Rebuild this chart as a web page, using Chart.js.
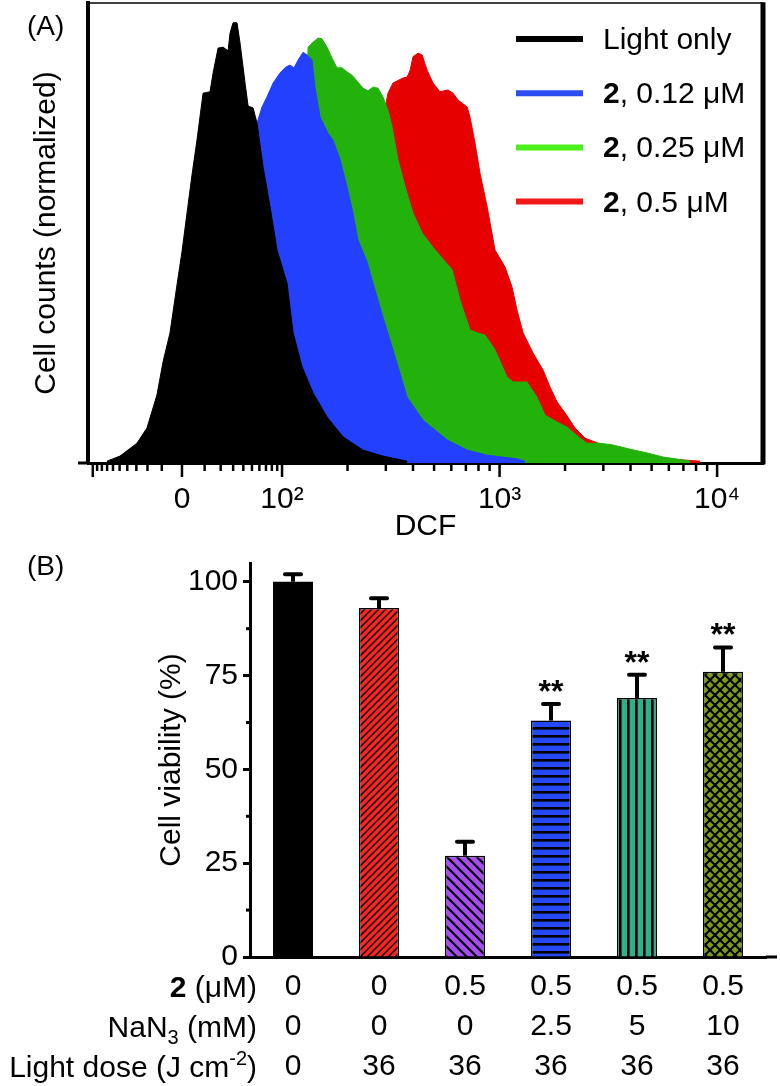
<!DOCTYPE html>
<html>
<head>
<meta charset="utf-8">
<script src="https://cdn.jsdelivr.net/npm/chart.js@4.4.1/dist/chart.umd.min.js"></script>
<style>
  html, body { margin: 0; padding: 0; background: #fff; }
  #wrap { position: relative; width: 780px; height: 1086px; }
  #chartA { position: absolute; left: 0; top: 0; }
  #chartB { position: absolute; left: 0; top: 540px; }
</style>
</head>
<body>
<div id="wrap">
  <canvas id="chartA" width="780" height="545"></canvas>
  <canvas id="chartB" width="780" height="546"></canvas>
</div>
<script>
// ── (A) DCF histograms ──
// x = display channel on the logicle DCF axis (10^2 -> 2, 10^3 -> 3 ...), y = cell counts (normalized, %)
const lightOnlyX = [1.195,1.255,1.333,1.379,1.425,1.453,1.485,1.517,1.540,1.563,1.586,1.609,1.637,1.669,1.683,1.706,1.729,1.752,1.761,1.775,1.793,1.807,1.830,1.844,1.867,1.885,1.913,1.945,1.977,2.023,2.051,2.092,2.143,2.207,2.280,2.372,2.464,2.575];
const lightOnlyY = [0.4,1.5,4.3,7.6,14.8,22.0,28.3,38.7,45.9,54.3,62.6,70.2,80.4,80.7,84.8,90.2,90.4,89.6,93.5,95.7,95.7,91.3,82.6,77.6,77.2,73.9,64.3,55.7,46.3,39.1,28.3,20.9,15.2,10.0,5.7,2.8,1.5,0.4];

const dose012X = [1.209,1.393,1.531,1.623,1.715,1.807,1.853,1.885,1.908,1.931,1.959,1.991,2.018,2.037,2.055,2.074,2.097,2.115,2.138,2.152,2.175,2.211,2.234,2.267,2.299,2.326,2.349,2.391,2.418,2.464,2.510,2.575,2.648,2.759,2.851,2.943,3.080,3.117];
const dose012Y = [0.4,1.7,4.8,8.9,17.0,35.4,57.2,73.9,77.4,79.6,82.6,84.8,86.1,86.5,85.9,87.6,89.3,88.7,87.6,81.5,75.2,71.7,70.2,65.9,60.0,54.3,48.5,43.7,39.1,31.7,24.6,14.3,9.3,5.0,2.8,1.7,0.9,0.4];

const dose025X = [1.255,1.531,1.761,1.899,1.991,2.037,2.083,2.106,2.120,2.143,2.166,2.184,2.207,2.230,2.253,2.276,2.299,2.322,2.349,2.372,2.395,2.418,2.441,2.464,2.487,2.506,2.533,2.566,2.602,2.644,2.700,2.782,2.818,2.864,2.897,2.933,2.979,3.034,3.062,3.126,3.172,3.209,3.264,3.310,3.370,3.402,3.462,3.522,3.600,3.678,3.752,3.807,3.876];
const dose025Y = [0.4,1.1,2.8,7.2,15.9,28.9,50.7,74.6,90.4,91.5,92.4,92.2,90.4,88.0,85.9,85.9,85.0,84.3,82.8,81.5,80.9,81.7,81.5,79.6,76.7,73.0,65.9,60.0,54.3,50.0,46.5,42.0,35.4,28.9,28.3,27.8,24.6,18.7,17.6,17.6,14.3,10.4,8.9,7.8,5.4,4.3,4.3,3.9,3.0,2.2,1.3,0.9,0.4];

const dose05X = [1.347,1.853,2.083,2.221,2.313,2.382,2.428,2.464,2.487,2.510,2.556,2.575,2.589,2.602,2.625,2.644,2.667,2.694,2.726,2.763,2.786,2.809,2.851,2.864,2.887,2.910,2.943,2.979,3.025,3.057,3.080,3.108,3.154,3.200,3.232,3.264,3.301,3.347,3.393,3.453,3.508,3.646,3.830,3.922];
const dose05Y = [0.4,1.7,5.0,13.7,28.9,46.3,63.7,74.6,80.4,82.6,83.7,83.9,85.4,88.3,89.1,88.7,85.4,82.6,80.7,81.1,80.4,78.9,77.4,75.2,69.6,63.0,55.7,46.3,42.6,38.3,33.3,28.3,23.9,20.2,16.5,13.3,10.9,7.6,5.4,4.3,3.3,1.7,0.7,0.4];

const HIST_LABELS = ['Light only', '2, 0.12 μM', '2, 0.25 μM', '2, 0.5 μM'];
const HIST_FILL   = ['#000000', '#2340ff', '#23b20b', '#e60000'];
const HIST_KEY    = ['#000000', '#2b4df2', '#4cf01a', '#f21818'];

// DCF axis ticks (fluorescence values), labelled majors + unlabelled minors
const DCF_MAJOR = [-100, 0, 100, 1000, 10000];
const DCF_MAJOR_LABELS = ['', '0', '10²', '10³', '10⁴'];
const DCF_MINOR = [-90, -80, -70, -60, -50, -40, -30, -20, -10, 10, 20, 30, 40, 50, 60, 70, 80, 90,
  200, 300, 400, 500, 600, 700, 800, 900, 2000, 3000, 4000, 5000, 6000, 7000, 8000, 9000];

// ── (B) cell viability ──
const viability    = [100, 93, 27, 63, 69, 76];
const viabilityErr = [2, 2.6, 3.7, 4.4, 6.2, 6.5];
const significance = ['', '', '', '**', '**', '**'];
const conc2        = ['0', '0', '0.5', '0.5', '0.5', '0.5'];
const nan3         = ['0', '0', '0', '2.5', '5', '10'];
const lightDose    = ['0', '36', '36', '36', '36', '36'];
const VIAB_TICKS_MAJOR = [0, 25, 50, 75, 100];

const FONT = '"Liberation Sans", Arial, Helvetica, sans-serif';
Chart.defaults.font.family = FONT;
Chart.defaults.color = '#000';

// logicle-like display transform: linear-ish around zero, log above 100
function toChan(v) {
  if (v >= 100) return Math.log10(v);
  const k = Math.log(1 + Math.abs(v) / 20) / Math.log(6);
  return v >= 0 ? 1.54 + 0.46 * k : 1.54 - 0.41 * k;
}

function seg(ctx, x1, y1, x2, y2) {
  ctx.beginPath(); ctx.moveTo(x1, y1); ctx.lineTo(x2, y2); ctx.stroke();
}

// parts: {t, s} with s = 'b' bold, 'sub', 'sup' or undefined
function richText(ctx, parts, x, baseline, align) {
  const fontOf = p => p.s === 'b' ? `bold 30px ${FONT}` : (p.s ? `20px ${FONT}` : `30px ${FONT}`);
  let w = 0;
  parts.forEach(p => { ctx.font = fontOf(p); w += ctx.measureText(p.t).width; });
  let cx = align === 'right' ? x - w : x;
  ctx.textAlign = 'left'; ctx.textBaseline = 'alphabetic';
  parts.forEach(p => {
    ctx.font = fontOf(p);
    const dy = p.s === 'sub' ? 7 : p.s === 'sup' ? -12 : 0;
    ctx.fillText(p.t, cx, baseline + dy);
    cx += ctx.measureText(p.t).width;
  });
}

function labelParts(label) {
  return label.startsWith('2,') ? [{ t: '2', s: 'b' }, { t: label.slice(1) }] : [{ t: label }];
}

// ── panel A ──
const dcfTicks = DCF_MAJOR.concat(DCF_MINOR);
const dcfLabels = DCF_MAJOR_LABELS.concat(DCF_MINOR.map(() => ''));

const histDecor = {
  id: 'histDecor',
  afterDraw(chart) {
    const { ctx, chartArea: a, scales: { x } } = chart;
    ctx.save();
    ctx.strokeStyle = '#000';
    ctx.lineWidth = 1.5; seg(ctx, a.left, a.top, a.right, a.top);
    ctx.lineWidth = 5;   seg(ctx, a.right, a.top - 0.75, a.right, a.bottom + 1.5);
    ctx.lineWidth = 3;   seg(ctx, a.left - 10, a.bottom, a.left, a.bottom);
    ctx.lineWidth = 2.5;
    DCF_MAJOR.forEach(v => { const p = x.getPixelForValue(toChan(v)); seg(ctx, p, a.bottom, p, a.bottom + 14); });
    DCF_MINOR.forEach(v => { const p = x.getPixelForValue(toChan(v)); seg(ctx, p, a.bottom, p, a.bottom + 8); });

    // legend
    ctx.fillStyle = '#000';
    HIST_LABELS.forEach((lab, i) => {
      const ly = a.top + 36 + i * 54.2;
      ctx.strokeStyle = HIST_KEY[i]; ctx.lineWidth = 6;
      seg(ctx, 516, ly, 583, ly);
      richText(ctx, labelParts(lab), 603, ly + 10, 'left');
    });

    ctx.font = `28px ${FONT}`; ctx.textAlign = 'left'; ctx.textBaseline = 'alphabetic';
    ctx.fillText('(A)', 27, 35);
    ctx.restore();
  }
};

const histSeries = [
  [lightOnlyX, lightOnlyY], [dose012X, dose012Y], [dose025X, dose025Y], [dose05X, dose05Y]
];

new Chart(document.getElementById('chartA'), {
  type: 'line',
  data: {
    datasets: histSeries.map(([xs, ys], i) => ({
      label: HIST_LABELS[i],
      data: xs.map((x, j) => ({ x, y: ys[j] })),
      borderColor: HIST_FILL[i], backgroundColor: HIST_FILL[i],
      borderWidth: 1, pointRadius: 0, tension: 0, fill: 'origin'
    }))
  },
  options: {
    responsive: false, animation: false, devicePixelRatio: 1,
    layout: { padding: { top: 3, right: 17, left: 0, bottom: 0 } },
    plugins: { legend: { display: false }, tooltip: { enabled: false } },
    scales: {
      x: {
        type: 'linear', min: 1.108, max: 4.211,
        afterFit: s => { s.height = 82; },
        afterBuildTicks: s => { s.ticks = dcfTicks.map(v => ({ value: toChan(v) })); },
        ticks: { autoSkip: false, maxRotation: 0, padding: 19, font: { size: 30 }, color: '#000',
          callback: (val, i) => dcfLabels[i] },
        grid: { display: false, drawTicks: false },
        border: { color: '#000', width: 3 },
        title: { display: true, text: 'DCF', font: { size: 30 }, color: '#000', padding: { top: 0, bottom: 0 } }
      },
      y: {
        min: 0, max: 100,
        afterFit: s => { s.width = 88; },
        ticks: { display: false },
        grid: { display: false, drawTicks: false },
        border: { color: '#000', width: 4 },
        title: { display: true, text: 'Cell counts (normalized)', font: { size: 30 }, color: '#000', padding: { top: 29, bottom: 0 } }
      }
    }
  },
  plugins: [histDecor]
});

// ── panel B ──
function hatch(bg, size, draw) {
  const c = document.createElement('canvas');
  c.width = size; c.height = size;
  const g = c.getContext('2d');
  g.fillStyle = bg; g.fillRect(0, 0, size, size);
  g.strokeStyle = '#000'; g.fillStyle = '#000';
  draw(g, size);
  return g.createPattern(c, 'repeat');
}

const BAR_FILLS = [
  '#000000',
  hatch('#ff2424', 7, (g, s) => { g.lineWidth = 1.5; seg(g, -1, s + 1, s + 1, -1); seg(g, -1, 1, 1, -1); seg(g, s - 1, s + 1, s + 1, s - 1); }),
  hatch('#a64df2', 10, (g, s) => { g.lineWidth = 2.2; seg(g, -1, -1, s + 1, s + 1); seg(g, -1, s - 1, 1, s + 1); seg(g, s - 1, -1, s + 1, 1); }),
  hatch('#2448f5', 8, (g, s) => { g.fillRect(0, 3, s, 2.6); }),
  hatch('#2fb08a', 8, (g, s) => { g.fillRect(3, 0, 2.6, s); }),
  hatch('#7d9c12', 10, (g, s) => {
    g.lineWidth = 2;
    seg(g, -1, -1, s + 1, s + 1); seg(g, -1, s - 1, 1, s + 1); seg(g, s - 1, -1, s + 1, 1);
    seg(g, -1, s + 1, s + 1, -1); seg(g, -1, 1, 1, -1); seg(g, s - 1, s + 1, s + 1, s - 1);
  })
];

const ROW_HEADERS = [
  [{ t: '2', s: 'b' }, { t: ' (μM)' }],
  [{ t: 'NaN' }, { t: '3', s: 'sub' }, { t: ' (mM)' }],
  [{ t: 'Light dose (J cm' }, { t: '-2', s: 'sup' }, { t: ')' }]
];

const barDecor = {
  id: 'barDecor',
  afterDatasetsDraw(chart) {
    const { ctx, scales: { x, y } } = chart;
    ctx.save();
    ctx.strokeStyle = '#000'; ctx.fillStyle = '#000';
    viability.forEach((v, i) => {
      const cx = x.getPixelForValue(i);
      const y0 = y.getPixelForValue(v);
      const y1 = y.getPixelForValue(v + viabilityErr[i]);
      ctx.lineWidth = 4; ctx.lineCap = 'butt'; seg(ctx, cx, y0, cx, y1);
      ctx.lineCap = 'round'; seg(ctx, cx - 8, y1, cx + 8, y1);
      if (significance[i]) {
        ctx.font = `bold 32px ${FONT}`; ctx.textAlign = 'center'; ctx.textBaseline = 'alphabetic';
        ctx.fillText(significance[i], cx, y1 - 2);
      }
    });
    ctx.restore();
  },
  afterDraw(chart) {
    const { ctx, chartArea: a, scales: { x, y } } = chart;
    ctx.save();
    ctx.strokeStyle = '#000'; ctx.fillStyle = '#000';
    ctx.lineWidth = 3;
    seg(ctx, a.right, a.bottom, a.right + 11, a.bottom);
    [12.5, 37.5, 62.5, 87.5].forEach(v => { const p = y.getPixelForValue(v); seg(ctx, a.left - 4, p, a.left, p); });
    ROW_HEADERS.forEach((parts, k) => {
      const c = x.top + 10 + 20 + k * 40;
      richText(ctx, parts, 257, c + 9.5, 'right');
    });
    ctx.font = `28px ${FONT}`; ctx.textAlign = 'left'; ctx.textBaseline = 'alphabetic';
    ctx.fillText('(B)', 27, 35);
    ctx.restore();
  }
};

new Chart(document.getElementById('chartB'), {
  type: 'bar',
  data: {
    labels: conc2.map((c, i) => [c, nan3[i], lightDose[i]]),
    datasets: [{
      data: viability,
      backgroundColor: BAR_FILLS,
      borderColor: '#000',
      borderWidth: [0, 1.5, 1.5, 1.5, 1.5, 1.5],
      barPercentage: 0.465, categoryPercentage: 1
    }]
  },
  options: {
    responsive: false, animation: false, devicePixelRatio: 1,
    layout: { padding: { top: 11, right: 14, left: 0, bottom: 0 } },
    plugins: { legend: { display: false }, tooltip: { enabled: false } },
    scales: {
      x: {
        afterFit: s => { s.height = 129; },
        ticks: { autoSkip: false, maxRotation: 0, padding: 10, font: { size: 30, lineHeight: 40 / 30 }, color: '#000' },
        grid: { display: false, drawTicks: false },
        border: { color: '#000', width: 3 }
      },
      y: {
        min: 0, max: 105,
        afterFit: s => { s.width = 250; },
        afterBuildTicks: s => { s.ticks = VIAB_TICKS_MAJOR.map(v => ({ value: v })); },
        ticks: { padding: 5, font: { size: 30 }, color: '#000' },
        grid: { drawOnChartArea: false, tickLength: 7, tickWidth: 3, tickColor: '#000' },
        border: { color: '#000', width: 3 },
        title: { display: true, text: 'Cell viability (%)', font: { size: 30 }, color: '#000', padding: { top: 154, bottom: 0 } }
      }
    }
  },
  plugins: [barDecor]
});
</script>
</body>
</html>
